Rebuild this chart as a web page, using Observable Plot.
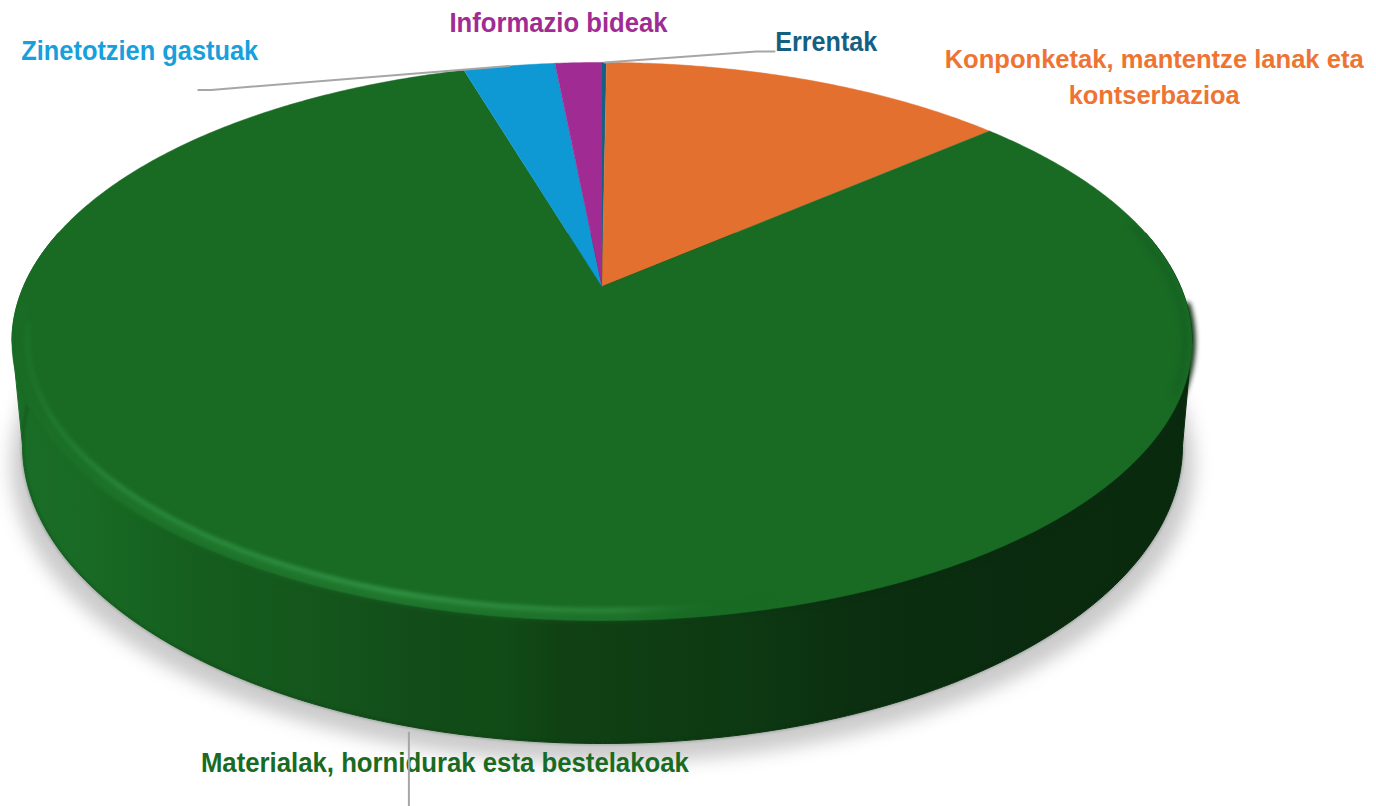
<!DOCTYPE html>
<html><head><meta charset="utf-8">
<style>html,body{margin:0;padding:0;background:#fff;overflow:hidden}svg{display:block}</style>
<script src="https://cdn.jsdelivr.net/npm/d3@7"></script>
<script src="https://cdn.jsdelivr.net/npm/@observablehq/plot@0.6"></script>
</head><body><script>
const categories = ["Errentak","Konponketak, mantentze lanak eta\nkontserbazioa","Materialak, hornidurak esta bestelakoak","Zinetotzien gastuak","Informazio bideak"];
const shares = [0.15,13.5,81.77,3.03,1.55];
const sliceColors = ["#156082","#E4702F","#196B24","#0F99D4","#A02B93"];
const textColors = ["#156082","#EE7433","#196B24","#18A0DC","#A02B93"];

// Perspective model of the pie's top face and its lower rim
const cx=601.5, cy=286, f=2933, g=1360, d=5.07;
const topP=(deg,r=1)=>{const a=deg*Math.PI/180,X=r*Math.sin(a),Z=r*Math.cos(a);
  return {x:cx+f*X/(d+Z),y:cy-g*Z/(d+Z)};};
const botP=deg=>{const a=deg*Math.PI/180;return {x:602+580*Math.sin(a),y:445-298*Math.cos(a)};};
const span=(a,b,s=1)=>{const o=[];for(let t=a;t<b;t+=s)o.push(t);o.push(b);return o;};

let acc=0;
const slices=categories.map((name,i)=>{const a0=acc/100*360;acc+=shares[i];const a1=acc/100*360;return {name,a0,a1};});
const wedgePts=slices.flatMap(s=>[{name:s.name,x:cx,y:cy},...span(s.a0,s.a1,0.5).map(t=>({name:s.name,...topP(t)}))]);

// The side wall runs from the widest points of the top face round the lower rim
const sidePts=[...span(78,101,1).map(t=>topP(t)),...span(90,270,1).map(botP),...span(259,282,1).map(t=>topP(t))];
const bottomPts=span(60,300,1).map(botP);
const shadowPts=span(0,360,2).map(t=>{const p=botP(t);return {x:602+(p.x-602)*1.02,y:p.y+19};});
const rimPts=span(130,262,1).map(t=>topP(t,0.975));
const softRim=span(130,266,1).map(t=>topP(t,0.989));
const edgeGlow=span(94,270,1).map(t=>topP(t,1));
const rightEdge=span(76,112,1).map(t=>topP(t,0.988));

// Label placement, relative to the rim point of each slice's middle
const mid=i=>(slices[i].a0+slices[i].a1)/2;
const labelOffset=[[222,-23],[346,-6],[36,34],[-369.5,-17],[-20,-42]];
const labelWidths=[[102],[419,171],[488],[237],[218]];
const labelSizes=[27,25.5,27,27,27];
const labels=slices.map((s,i)=>{const p=i===2?botP(199.5):topP(mid(i));return {name:s.name,x:p.x,y:p.y};});
const m3=topP(mid(3)), e0=topP(0.3), b2=botP(199.5);
const leaderPaths=[
  [m3,{x:m3.x-298,y:m3.y+24},{x:m3.x-311,y:m3.y+24}],
  [e0,{x:e0.x+152,y:e0.y-11},{x:e0.x+170,y:e0.y-11}],
  [{x:b2.x,y:b2.y+6},{x:b2.x,y:806}]
];
const leaders=leaderPaths.flatMap((pts,k)=>pts.map(p=>({k,...p})));

const defs=()=>{
  const el=d3.create("svg:defs");
  const grad=(id,stops)=>{const g=el.append("linearGradient").attr("id",id).attr("gradientUnits","userSpaceOnUse")
    .attr("x1",0).attr("x2",1376).attr("y1",0).attr("y2",0);
    stops.forEach(([o,c,op])=>g.append("stop").attr("offset",o/1376).attr("stop-color",c).attr("stop-opacity",op??1));};
  grad("wall",[[15,"#1A6D27"],[90,"#186A24"],[200,"#155D1E"],[330,"#14551C"],[410,"#124D19"],[500,"#114C17"],[560,"#104113"],[650,"#0F3D13"],[760,"#0D3812"],[860,"#0B2F10"],[1000,"#0A2B0F"],[1190,"#0A2A0E"]]);
  grad("rim",[[12,"#2C8C3C",.1],[45,"#2C8C3C",.45],[120,"#2F9141",.85],[400,"#349848",1],[620,"#2F8A3E",.9],[720,"#1A6B26",.2],[780,"#1A6B26",0]]);
  grad("dark",[[760,"#0A2B0F",0],[900,"#0A2B0F",.7],[1190,"#0A2B0F",1]]);
  return el.node();
};

const textMarks=labels.map((l,i)=>Plot.text([l],{x:"x",y:"y",text:"name",dx:labelOffset[i][0],dy:labelOffset[i][1],
  fill:textColors[i],fontFamily:"'Liberation Sans',sans-serif",fontWeight:700,fontSize:labelSizes[i],lineHeight:36/labelSizes[i],textAnchor:"middle",lineAnchor:"middle",
  render(index,scales,values,dims,ctx,next){
    const g=next(index,scales,values,dims,ctx);
    d3.select(g).selectAll("text").each(function(){
      const spans=this.querySelectorAll("tspan");
      const nodes=spans.length?[...spans]:[this];
      nodes.forEach((n,k)=>{n.setAttribute("textLength",labelWidths[i][k]);n.setAttribute("lengthAdjust","spacingAndGlyphs");});
    });
    return g;
  }}));

const plot=Plot.plot({
  width:1376,height:806,margin:0,
  x:{domain:[0,1376],range:[0,1376],axis:null},
  y:{domain:[0,806],range:[0,806],axis:null},
  color:{domain:categories,range:sliceColors},
  style:{background:"#fff"},
  marks:[
    defs,
    Plot.line(shadowPts,{x:"x",y:"y",fill:"#CBCBCB",stroke:null,imageFilter:"blur(9px)"}),
    Plot.line(sidePts,{x:"x",y:"y",fill:"url(#wall)",stroke:"url(#wall)",strokeWidth:1}),
    Plot.line(bottomPts,{x:"x",y:"y",stroke:"#082A0D",strokeWidth:2,strokeOpacity:.35,imageFilter:"blur(1.5px)"}),
    Plot.line(edgeGlow,{x:"x",y:"y",stroke:"url(#dark)",strokeWidth:7,imageFilter:"blur(2.5px)"}),
    Plot.line(wedgePts,{x:"x",y:"y",z:"name",fill:"name",stroke:"name",strokeWidth:.5}),
    Plot.line(rightEdge,{x:"x",y:"y",stroke:"#0E4016",strokeWidth:4,strokeOpacity:.3,imageFilter:"blur(3px)"}),
    Plot.line(softRim,{x:"x",y:"y",stroke:"url(#rim)",strokeWidth:8,strokeOpacity:.35,imageFilter:"blur(3px)"}),
    Plot.line(rimPts,{x:"x",y:"y",stroke:"url(#rim)",strokeWidth:4.5,imageFilter:"blur(2px)"}),
    ...textMarks,
    Plot.line(leaders,{x:"x",y:"y",z:"k",stroke:"#A6A6A6",strokeWidth:2})
  ]
});
document.body.appendChild(plot);
</script></body></html>
